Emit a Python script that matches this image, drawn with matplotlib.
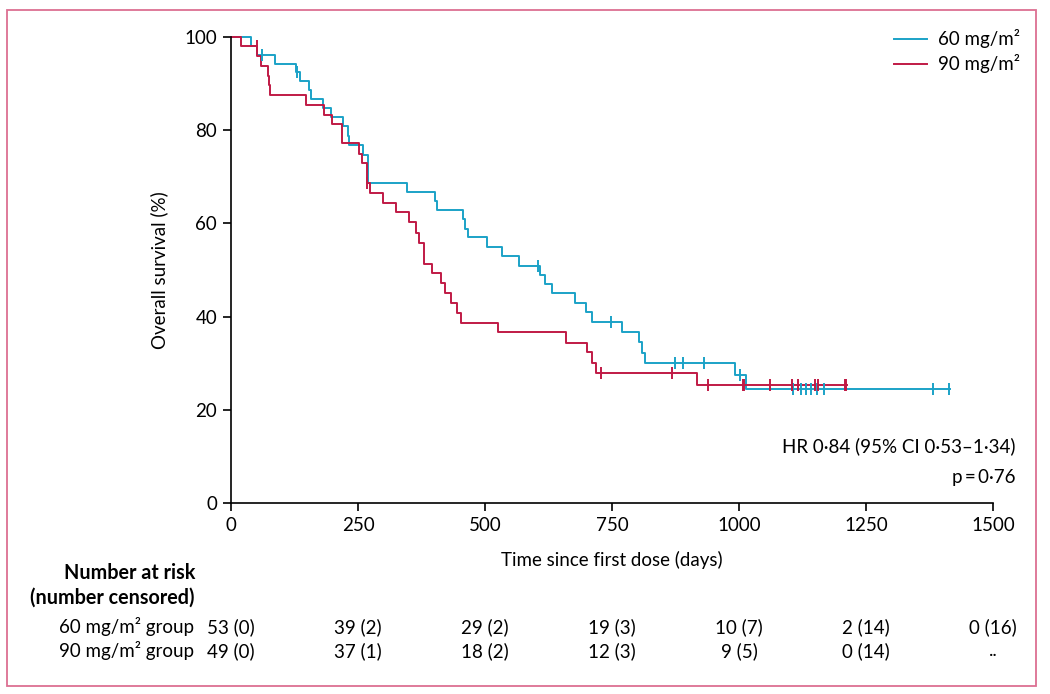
import matplotlib
matplotlib.use("Agg")
import matplotlib.pyplot as plt
import matplotlib.transforms as mtransforms
from matplotlib.patches import Rectangle
from matplotlib.lines import Line2D

plt.rcParams["font.family"] = ["Lato", "DejaVu Sans"]

# Kaplan-Meier steps (day, survival % after the drop)
t60 = [0, 39, 52, 87, 128, 135, 154, 158, 181, 197, 220, 230, 233, 259, 270, 346,
       402, 405, 457, 461, 466, 503, 533, 566, 608, 619, 632, 677, 698, 711, 769,
       804, 810, 814, 992, 1013, 1415]
s60 = [100, 98.1, 96.2, 94.3, 92.4, 90.5, 88.6, 86.6, 84.8, 82.8, 80.8, 78.8, 76.8,
       74.7, 68.7, 66.8, 64.9, 62.9, 60.9, 58.9, 57.0, 55.0, 52.9, 50.9, 48.9, 47.1,
       45.1, 43.0, 40.9, 38.9, 36.6, 34.5, 32.1, 30.0, 27.5, 24.5, 24.5]
c60_t = [62, 130, 604, 748, 874, 889, 931, 1002, 1107, 1122, 1132, 1141, 1153, 1167,
         1381, 1413]
c60_s = [96.2, 92.4, 50.9, 38.9, 30.0, 30.0, 30.0, 27.5, 24.5, 24.5, 24.5, 24.5,
         24.5, 24.5, 24.5, 24.5]

t90 = [0, 20, 52, 59, 72, 74, 77, 148, 184, 198, 218, 251, 257, 267, 273, 299, 324,
       350, 365, 370, 380, 396, 413, 422, 433, 445, 453, 526, 659, 700, 711, 718,
       918, 1213]
s90 = [100, 98.0, 95.9, 93.8, 91.7, 89.6, 87.5, 85.4, 83.3, 81.3, 77.2, 75.0, 72.9,
       68.7, 66.5, 64.4, 62.5, 60.4, 57.9, 55.9, 51.3, 49.4, 47.3, 45.0, 42.9, 40.8,
       38.7, 36.6, 34.3, 32.3, 30.1, 28.0, 25.3, 25.3]
c90_t = [51, 268, 728, 869, 938, 1007, 1010, 1062, 1105, 1117, 1150, 1156, 1209, 1211]
c90_s = [98.0, 68.7, 28.0, 28.0, 25.3, 25.3, 25.3, 25.3, 25.3, 25.3, 25.3, 25.3,
         25.3, 25.3]

risk_days = [0, 250, 500, 750, 1000, 1250, 1500]
risk60 = ["53 (0)", "39 (2)", "29 (2)", "19 (3)", "10 (7)", "2 (14)", "0 (16)"]
risk90 = ["49 (0)", "37 (1)", "18 (2)", "12 (3)", "9 (5)", "0 (14)", ".."]

blue = "#1ba2c7"
red = "#c01a45"
fs = 13.5

fig = plt.figure(figsize=(10.5, 6.94), dpi=100)
ax = fig.add_axes([231 / 1050, 1 - 503 / 694, 762 / 1050, 466 / 694])

ax.step(t60, s60, where="post", color=blue, lw=1.4, clip_on=False)
ax.step(t90, s90, where="post", color=red, lw=1.4, clip_on=False)
ax.plot(c60_t, c60_s, "|", color=blue, ms=8, mew=1.4, clip_on=False)
ax.plot(c90_t, c90_s, "|", color=red, ms=8, mew=1.4, clip_on=False)

ax.set_xlim(0, 1500)
ax.set_ylim(0, 100)
ax.set_xticks([0, 250, 500, 750, 1000, 1250, 1500])
ax.set_yticks([0, 20, 40, 60, 80, 100])
for s in ["top", "right"]:
    ax.spines[s].set_visible(False)
for s in ["left", "bottom"]:
    ax.spines[s].set_linewidth(1.2)
ax.tick_params(direction="out", length=6, width=1.2, labelsize=fs, pad=4)
ax.set_xlabel("Time since first dose (days)", fontsize=fs, labelpad=12)
ax.set_ylabel("Overall survival (%)", fontsize=fs, labelpad=12)

handles = [Line2D([], [], color=blue, lw=1.4), Line2D([], [], color=red, lw=1.4)]
fig.legend(handles, ["60 mg/m\u00b2", "90 mg/m\u00b2"], loc="upper right",
           bbox_to_anchor=(1027 / 1050, 1 - 22 / 694), frameon=False, fontsize=fs,
           handlelength=1.75, handletextpad=0.55, labelspacing=0.3, borderaxespad=0)

fig.text(1016 / 1050, 1 - 446 / 694, "HR 0\u00b784 (95% CI 0\u00b753\u20131\u00b734)",
         ha="right", va="center", fontsize=fs)
fig.text(1016 / 1050, 1 - 477 / 694, "p\u2009=\u20090\u00b776", ha="right", va="center",
         fontsize=fs)

# number at risk table
tr = mtransforms.blended_transform_factory(ax.transData, fig.transFigure)
fig.text(195 / 1050, 1 - 573 / 694, "Number at risk", ha="right", va="center",
         fontsize=14.2, fontweight="bold")
fig.text(195 / 1050, 1 - 598 / 694, "(number censored)", ha="right", va="center",
         fontsize=14.2, fontweight="bold")
fig.text(194 / 1050, 1 - 627 / 694, "60 mg/m\u00b2 group", ha="right", va="center",
         fontsize=fs)
fig.text(194 / 1050, 1 - 651 / 694, "90 mg/m\u00b2 group", ha="right", va="center",
         fontsize=fs)
for d, a, b in zip(risk_days, risk60, risk90):
    ax.text(d, 1 - 627 / 694, a, transform=tr, ha="center", va="center", fontsize=fs)
    ax.text(d, 1 - 651 / 694, b, transform=tr, ha="center", va="center", fontsize=fs)

fig.patches.append(Rectangle((7 / 1050, 1 - 686 / 694), 1029 / 1050, 676 / 694,
                             transform=fig.transFigure, fill=False,
                             edgecolor="#dc6f92", lw=1.3))

plt.savefig("out.png", dpi=100)
